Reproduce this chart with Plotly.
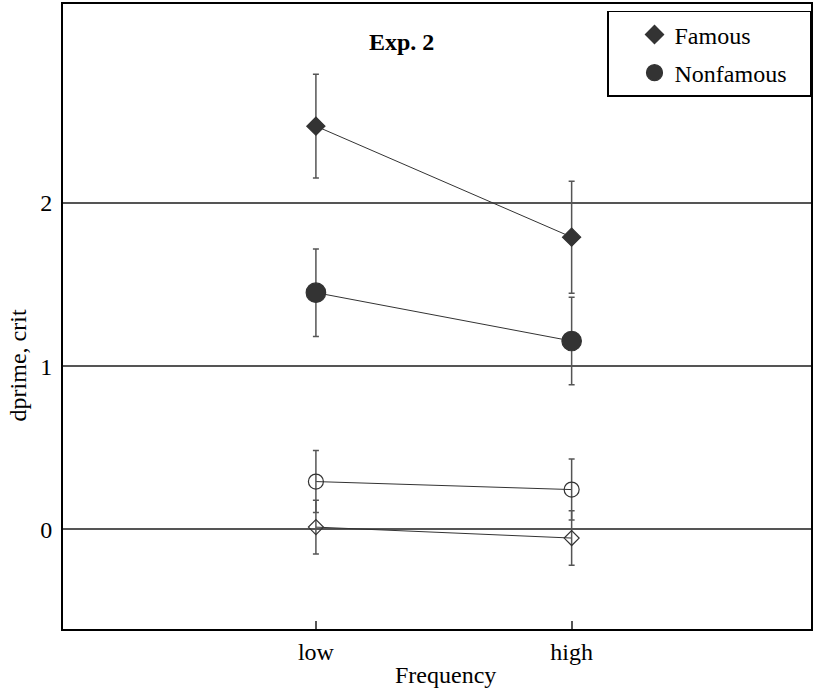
import plotly.graph_objects as go

categories = ["low", "high"]
x_pos = [1, 2]

famous_dprime = [2.47, 1.79]
famous_dprime_err = [0.317, 0.343]
nonfamous_dprime = [1.45, 1.154]
nonfamous_dprime_err = [0.268, 0.268]
famous_crit = [0.014, -0.053]
famous_crit_err = [0.165, 0.167]
nonfamous_crit = [0.293, 0.244]
nonfamous_crit_err = [0.19, 0.187]

y_ticks = [0, 1, 2]

FONT = "Liberation Serif"
DARK = "#333333"
ERR = "#555555"

fig = go.Figure()

def add_series(y, err, symbol, size, name, showlegend, group):
    fig.add_trace(go.Scatter(x=x_pos, y=y, mode="lines", line=dict(color=DARK, width=1),
                             showlegend=False, hoverinfo="skip", legendgroup=group))
    fig.add_trace(go.Scatter(
        x=x_pos, y=y, mode="markers", name=name, showlegend=showlegend, legendgroup=group,
        marker=dict(symbol=symbol, size=size, color=DARK, line=dict(color=DARK, width=1.2)),
        error_y=dict(type="data", array=err, visible=True, color=ERR, thickness=1.5, width=3),
    ))

add_series(famous_crit, famous_crit_err, "diamond-open", 11.5, "Famous crit", False, "c")
add_series(nonfamous_crit, nonfamous_crit_err, "circle-open", 15, "Nonfamous crit", False, "d")
add_series(famous_dprime, famous_dprime_err, "diamond", 14, "Famous", True, "a")
add_series(nonfamous_dprime, nonfamous_dprime_err, "circle", 19.5,
           "Nonfamous\u00a0\u00a0\u00a0", True, "b")

fig.update_layout(
    width=819, height=691,
    margin=dict(l=63, r=8, t=2, b=62),
    paper_bgcolor="white", plot_bgcolor="white",
    font=dict(family=FONT, size=24, color="black"),
    legend=dict(x=1.0, xanchor="right", y=0.989, yanchor="top",
                bordercolor="black", borderwidth=1.5, bgcolor="white",
                font=dict(family=FONT, size=24), tracegroupgap=4, indentation=26,
                traceorder="grouped"),
    xaxis=dict(range=[0.011, 2.936], tickvals=x_pos, ticktext=categories,
               ticks="inside", ticklen=8, tickcolor=ERR, tickwidth=1.5,
               showgrid=False, zeroline=False, showline=True, linecolor="black",
               linewidth=2, mirror=True, tickfont=dict(size=24)),
    yaxis=dict(range=[-0.61, 3.218], tickvals=y_ticks, ticktext=[str(v) for v in y_ticks],
               ticks="", showgrid=True, gridcolor=ERR, gridwidth=1.5, zeroline=False,
               showline=True, linecolor="black", linewidth=2, mirror=True,
               tickfont=dict(size=24), ticklabelstandoff=4),
    annotations=[
        dict(text="<b>Exp. 2</b>", x=0.452, y=0.939, xref="paper", yref="paper",
             showarrow=False, font=dict(size=24), xanchor="center", yanchor="middle"),
        dict(text="dprime, crit", x=-0.0608, y=0.421, xref="paper", yref="paper",
             showarrow=False, textangle=-90, font=dict(size=24),
             xanchor="center", yanchor="middle"),
        dict(text="Frequency", x=0.512, y=-0.0734, xref="paper", yref="paper",
             showarrow=False, font=dict(size=24), xanchor="center", yanchor="middle"),
    ],
)

fig.write_html("out.html", config={"displayModeBar": False},
               post_script="document.body.style.margin='0';document.body.style.overflow='hidden';")
